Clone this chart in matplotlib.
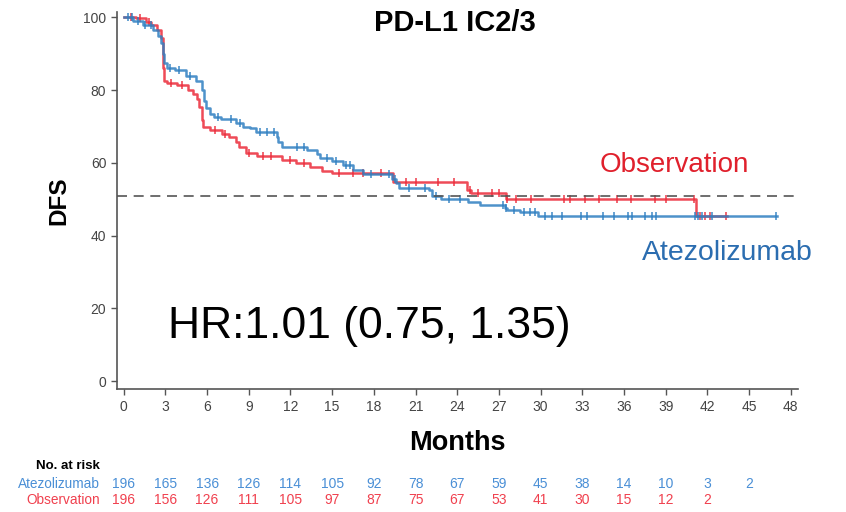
import numpy as np
import matplotlib
matplotlib.use('Agg')
from matplotlib import pyplot as plt
from matplotlib import transforms

plt.rcParams['font.family'] = ['Liberation Sans', 'DejaVu Sans']

# Kaplan-Meier step points (months, % disease free)
atezo_t = [0, 0.7, 1.4, 2.1, 2.5, 2.7, 2.8, 2.9, 3.1, 3.7, 4.5, 5.2, 5.6, 5.8, 5.9,
           6.2, 6.5, 7.0, 8.1, 8.6, 9.1, 9.5, 11.0, 11.1, 11.4, 13.2, 13.9, 14.1,
           15.0, 15.8, 16.5, 17.2, 19.3, 19.6, 19.8, 22.0, 22.2, 22.8, 24.8, 25.6,
           27.4, 27.6, 28.5, 29.8, 47.0]
atezo_s = [100, 99, 98, 96.5, 95, 93, 90, 87.5, 86, 85.4, 84, 82.6, 80, 77, 75,
           73.5, 72.5, 72, 71, 70, 69.5, 68.5, 67, 65.7, 64.3, 63.5, 62.5, 61.3,
           60.5, 59.5, 58, 57, 55.5, 54.5, 53, 52.5, 51, 50, 49.3, 48.4,
           47.5, 47, 46.4, 45.3, 45.3]
obs_t = [0, 0.9, 1.6, 2.0, 2.4, 2.7, 2.8, 2.9, 3.1, 3.8, 4.6, 5.0, 5.3, 5.4, 5.6,
         5.7, 6.2, 7.1, 7.6, 8.1, 8.3, 8.8, 9.6, 11.4, 12.4, 13.4, 14.3, 15.0,
         19.4, 24.7, 25.0, 27.5, 41.2, 43.4]
obs_s = [100, 99.7, 98.6, 97.8, 96.4, 94.2, 86, 82.4, 82, 81.3, 80, 79, 77.6, 75.3, 71.7,
         69.8, 69, 68, 67, 65.7, 64.3, 62.6, 61.8, 60.7, 59.9, 58.8, 57.7, 57.3,
         54.7, 52.5, 51.6, 50, 45.5, 45.5]

# censoring times
atezo_cens = [0.3, 0.6, 1.0, 1.5, 2.0, 3.3, 4.0, 4.8, 6.8, 7.7, 8.4, 9.8, 10.3, 10.8,
              12.5, 13.0, 14.6, 15.3, 16.0, 16.3, 17.8, 19.1, 19.5, 20.5, 21.7, 22.5,
              23.4, 24.2, 27.3, 27.5, 28.1, 28.8, 29.2, 29.6, 30.3, 30.8, 31.5, 32.9,
              33.3, 34.5, 35.3, 36.3, 36.6, 37.5, 38.0, 38.3, 41.1, 41.3, 41.6, 42.3, 46.9]
obs_cens = [0.5, 1.2, 1.8, 3.4, 4.2, 6.6, 7.3, 9.0, 10.0, 10.6, 12.0, 13.0, 15.5,
            16.5, 17.2, 18.5, 20.3, 21.0, 22.6, 23.8, 24.9, 25.5, 26.5, 27.0, 27.6,
            28.2, 29.3, 31.7, 32.1, 33.2, 34.2, 35.5, 36.5, 38.2, 39.0, 41.0, 41.5,
            41.8, 42.2, 43.3]

risk_months = [0, 3, 6, 9, 12, 15, 18, 21, 24, 27, 30, 33, 36, 39, 42, 45]
atezo_risk = [196, 165, 136, 126, 114, 105, 92, 78, 67, 59, 45, 38, 14, 10, 3, 2]
obs_risk = [196, 156, 126, 111, 105, 97, 87, 75, 67, 53, 41, 30, 15, 12, 2]

median_ref = 50.8

blue = '#2F7FC1'
red = '#EC2B3A'


def step_value(t, times, surv):
    idx = np.searchsorted(times, t, side='right') - 1
    return np.asarray(surv)[idx]


fig = plt.figure(figsize=(8.46, 5.12), dpi=100)
ax = fig.add_axes([0.138, 0.240, 0.805, 0.736])

for times, surv, cens, col in [(obs_t, obs_s, obs_cens, red),
                               (atezo_t, atezo_s, atezo_cens, blue)]:
    ax.step(times, surv, where='post', color=col, lw=1.8, alpha=0.85)
    ax.plot(cens, step_value(cens, times, surv), ls='none', marker='|',
            ms=6, mew=1.2, color=col, alpha=0.85)

ax.plot([-0.5, 48.5], [median_ref, median_ref], ls=(0, (6, 4)), color='#555555', lw=1.2)

ax.set_xlim(-0.5, 48.5)
ax.set_ylim(-2.2, 101.4)
ax.set_xticks(np.arange(0, 49, 3))
ax.set_yticks(np.arange(0, 101, 20))
ax.tick_params(direction='out', length=4, width=1, colors='#555555',
               labelsize=10, labelcolor='#444444')
for side in ['top', 'right']:
    ax.spines[side].set_visible(False)
for side in ['left', 'bottom']:
    ax.spines[side].set_color('#555555')
    ax.spines[side].set_linewidth(1.2)

ax.set_xlabel('Months', fontsize=19.5, fontweight='bold', labelpad=12)
ax.set_ylabel('DFS', fontsize=17.5, fontweight='bold', labelpad=9)
fig.text(0.538, 0.955, 'PD-L1 IC2/3', fontsize=21, fontweight='bold',
         ha='center', va='center')

ax.text(3.2, 11.8, 'HR:1.01 (0.75, 1.35)', fontsize=32, ha='left', va='baseline')
ax.text(39.6, 57.4, 'Observation', fontsize=20, color='#E0202C',
        ha='center', va='baseline')
ax.text(43.4, 33.2, 'Atezolizumab', fontsize=20.5, color='#2B6DB0',
        ha='center', va='baseline')

# number at risk table
tr = transforms.blended_transform_factory(ax.transData, fig.transFigure)
fig.text(0.118, 0.090, 'No. at risk', fontsize=9.5, fontweight='bold', ha='right', va='center')
fig.text(0.118, 0.054, 'Atezolizumab', fontsize=9.8, color='#4A8FD6', ha='right', va='center')
fig.text(0.118, 0.024, 'Observation', fontsize=9.8, color='#F0404E', ha='right', va='center')
for m, n in zip(risk_months, atezo_risk):
    ax.text(m, 0.054, str(n), transform=tr, fontsize=10, color='#4A8FD6',
            ha='center', va='center')
for m, n in zip(risk_months, obs_risk):
    ax.text(m, 0.024, str(n), transform=tr, fontsize=10, color='#F0404E',
            ha='center', va='center')

fig.savefig('out.png', dpi=100)
